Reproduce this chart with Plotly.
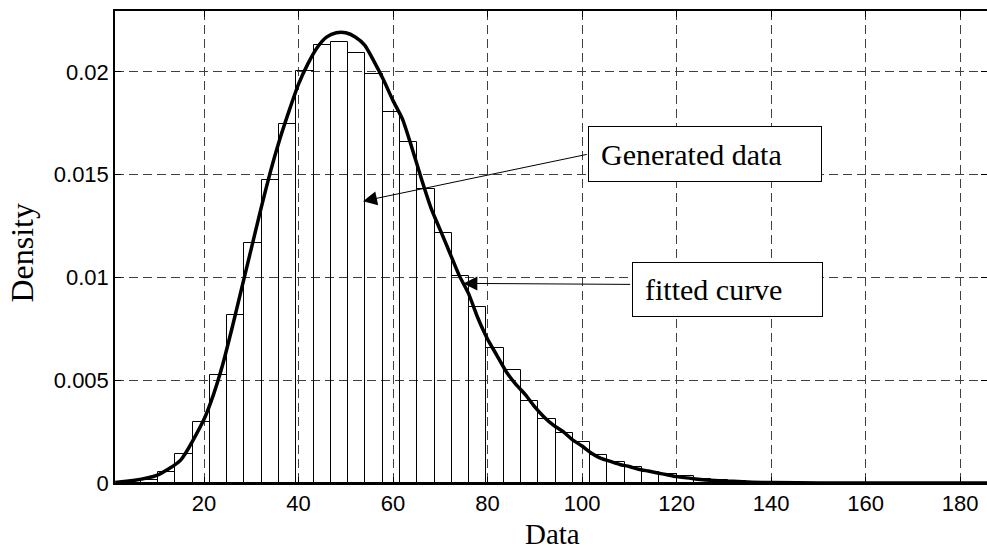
import plotly.graph_objects as go

# histogram bins (centres) and bar heights
bin_centers = [4.77, 8.43, 12.09, 15.75, 19.40, 23.06, 26.72, 30.38, 34.04, 37.70,
               41.35, 45.01, 48.67, 52.33, 55.99, 59.64, 63.30, 66.96, 70.62, 74.28,
               77.93, 81.59, 85.25, 88.91, 92.57, 96.22, 99.88, 103.54, 107.20, 110.86,
               114.51, 118.17, 121.83, 125.49, 129.15, 132.80, 136.46, 140.12, 143.78]
bin_heights = [0.0001, 0.00017, 0.000535, 0.0014, 0.00296, 0.00524, 0.00815, 0.01166, 0.01474, 0.01745,
               0.02006, 0.02131, 0.02147, 0.0209, 0.0199, 0.01806, 0.01657, 0.01428, 0.01217, 0.01007,
               0.00857, 0.00657, 0.00552, 0.00399, 0.00313, 0.00243, 0.00199, 0.00138, 0.00102, 0.00078,
               0.00054, 0.00042, 0.00033, 0.00021, 0.00013, 0.00008, 0.00005, 0.00003, 0.00002]
bin_width = 3.658

# fitted curve, read point by point
curve_x = [1.2, 5, 10, 15, 20, 22, 24, 26, 28, 30, 32, 34, 36, 38, 40, 42, 44, 46, 48, 50,
           52, 54, 56, 58, 60, 62, 64, 66, 68, 70, 72, 74, 76, 78, 80, 82, 84, 86, 88, 90,
           92, 94, 96, 98, 100, 102, 104, 106, 108, 110, 112, 114, 116, 118, 120, 124, 128,
           132, 136, 140, 150, 185.7]
curve_y = [0.00003, 0.00012, 0.00037, 0.0011, 0.0031, 0.0043, 0.0058, 0.0076, 0.0095, 0.0114,
           0.0133, 0.0151, 0.0167, 0.0181, 0.0194, 0.0204, 0.0212, 0.0217, 0.0219, 0.0219,
           0.0217, 0.0213, 0.0205, 0.0196, 0.0186, 0.0177, 0.0163, 0.0148, 0.0134, 0.0123,
           0.0112, 0.0101, 0.0092, 0.0080, 0.0070, 0.0062, 0.0054, 0.0048, 0.0043, 0.0037,
           0.0032, 0.0028, 0.0025, 0.0021, 0.0018, 0.00145, 0.0012, 0.00105, 0.0009, 0.0008,
           0.00067, 0.00058, 0.00049, 0.0004, 0.00031, 0.0002, 0.00012, 0.00008, 0.00004,
           0.00002, 0.0, 0.0]

y_ticks = [0, 0.005, 0.01, 0.015, 0.02]
y_labels = ["0", "0.005", "0.01", "0.015", "0.02"]
x_ticks = [20, 40, 60, 80, 100, 120, 140, 160, 180]

serif = "Liberation Serif, Times New Roman, serif"
sans = "Liberation Sans, Arial, sans-serif"

fig = go.Figure()
fig.add_trace(go.Bar(
    x=bin_centers, y=bin_heights, width=bin_width,
    marker=dict(color="rgba(255,255,255,0)", line=dict(color="black", width=1)),
    showlegend=False,
))
fig.add_trace(go.Scatter(
    x=curve_x, y=curve_y, mode="lines",
    line=dict(color="black", width=3.5, shape="spline", smoothing=0.6),
    showlegend=False,
))

grid = dict(showgrid=True, gridcolor="#404040", gridwidth=1, griddash="9px,5px",
            showline=True, linecolor="black", linewidth=1.5, mirror="ticks",
            ticks="inside", ticklen=6, tickcolor="black", zeroline=False,
            automargin=False,
            tickfont=dict(family=sans, size=22, color="black"))

fig.update_layout(
    width=987, height=551,
    margin=dict(l=115, r=0, t=11, b=68),
    paper_bgcolor="white", plot_bgcolor="white",
    bargap=0,
    xaxis=dict(range=[1.16, 185.7], tickvals=x_ticks, **grid),
    yaxis=dict(range=[0, 0.02296], tickvals=y_ticks, ticktext=y_labels, **grid),
    annotations=[
        # axis titles
        dict(text="Density", xref="paper", yref="paper", x=-0.1067, y=0.488,
             textangle=-90, showarrow=False, xanchor="center", yanchor="middle",
             font=dict(family=serif, size=32, color="black")),
        dict(text="Data", xref="paper", yref="paper", x=0.5017, y=-0.108,
             showarrow=False, xanchor="center", yanchor="middle",
             font=dict(family=serif, size=29, color="black")),
        # text boxes
        dict(text="Generated data", x=126.03, y=0.0160, xref="x", yref="y",
             showarrow=False, width=208, height=30, align="left", borderpad=12,
             bordercolor="black", borderwidth=1, bgcolor="white",
             font=dict(family=serif, size=30, color="black")),
        dict(text="fitted curve", x=130.79, y=0.009406, xref="x", yref="y",
             showarrow=False, width=165, height=29, align="left", borderpad=12,
             bordercolor="black", borderwidth=1, bgcolor="white",
             font=dict(family=serif, size=30, color="black")),
        # arrows
        dict(text="", x=53.65, y=0.01371, ax=101.33, ay=0.0160,
             xref="x", yref="y", axref="x", ayref="y",
             showarrow=True, arrowhead=2, arrowsize=2.8, arrowwidth=1, arrowcolor="black"),
        dict(text="", x=74.88, y=0.00971, ax=110.5, ay=0.00966,
             xref="x", yref="y", axref="x", ayref="y",
             showarrow=True, arrowhead=2, arrowsize=2.8, arrowwidth=1, arrowcolor="black"),
    ],
)

fig.write_html("out.html", config={"displayModeBar": False},
               post_script="document.body.style.margin='0';")
